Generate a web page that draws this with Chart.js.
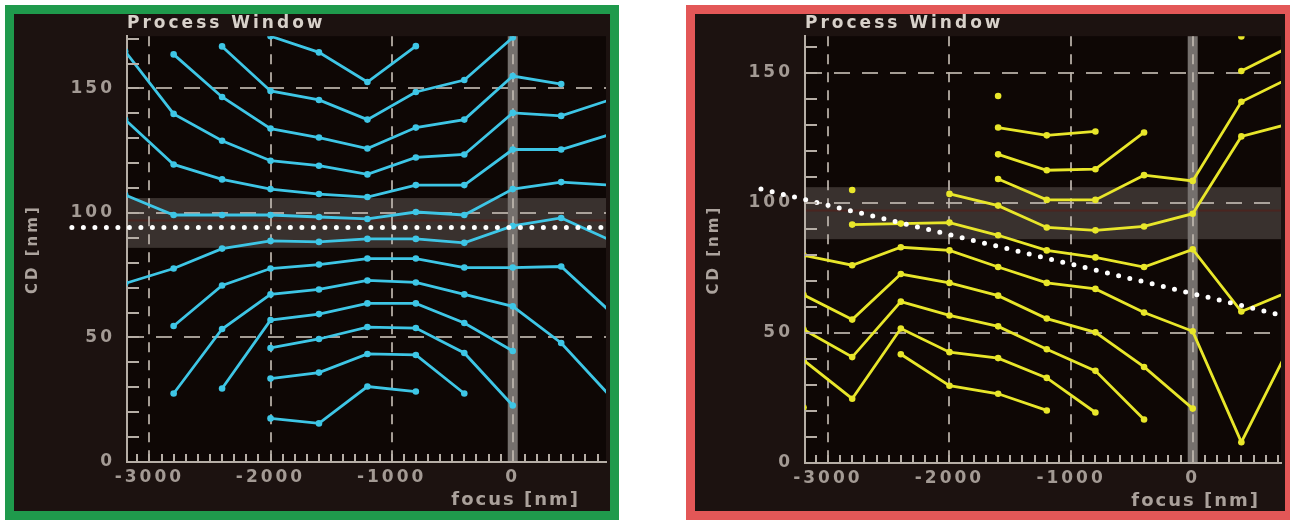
<!DOCTYPE html>
<html>
<head>
<meta charset="utf-8">
<script src="https://cdn.jsdelivr.net/npm/chart.js@4.4.1/dist/chart.umd.min.js"></script>
<style>
  html, body { margin: 0; padding: 0; background: #ffffff; width: 1290px; height: 521px; overflow: hidden; }
  .panel { position: absolute; top: 5px; border: 9px solid; background: #1c1210; box-sizing: content-box; }
  #boxLeft { left: 5px; width: 596px; height: 497px; border-color: #1f9a4c; }
  #boxRight { left: 686px; width: 590px; height: 497px; border-color: #e35757; }
  canvas { display: block; }
</style>
</head>
<body>
<div class="panel" id="boxLeft"><canvas id="leftChart" width="596" height="497"></canvas></div>
<div class="panel" id="boxRight"><canvas id="rightChart" width="590" height="497"></canvas></div>
<script>
// focus positions of the measured points (nm)
const focus = [-3200, -2800, -2400, -2000, -1600, -1200, -800, -400, 0, 400, 800];

// tick labels
const focusTicks = [-3000, -2000, -1000, 0];
const cdTicks = [0, 50, 100, 150];

// tolerance band on CD (nm)
const bandLow = 86;
const bandHigh = 106;
const targetCD = 97;

// left panel: CD (nm) per focus, one array per dose
const leftA = [null, null, null, 171, 164.5, 152.6, 167, null, null, null, null];
const leftB = [null, null, 166.9, 149, 145.4, 137.5, 148.6, 153.4, 170.5, null, null];
const leftC = [null, 163.7, 146.6, 133.9, 130.3, 125.9, 134.3, 137.5, 155, 151.8, null];
const leftD = [164.9, 139.8, 129, 121, 119, 115.5, 122.3, 123.5, 140.2, 139, 145.4];
const leftE = [137.5, 119.5, 113.5, 109.6, 107.6, 106.4, 111.2, 111.2, 125.5, 125.5, 131.5];
const leftF = [107.2, 99.2, 99.2, 99.2, 98.4, 97.6, 100.4, 99.2, 109.6, 112.4, 111.2];
const leftG = [71.7, 77.7, 85.7, 88.8, 88.4, 89.6, 89.6, 88, 94.8, 98, 89.2];
const leftH = [null, 54.6, 70.9, 77.7, 79.3, 81.7, 81.7, 78.1, 78.1, 78.5, 60.6];
const leftI = [null, 27.5, 53.4, 67.3, 69.3, 72.9, 72.1, 67.3, 62.5, 47.8, 26.7];
const leftJ = [null, null, 29.5, 57, 59.4, 63.7, 63.7, 55.8, 44.6, null, null];
const leftK = [null, null, null, 45.8, 49.4, 54.2, 53.8, 43.8, 22.7, null, null];
const leftL = [null, null, null, 33.5, 35.9, 43.4, 43, 27.5, null, null, null];
const leftM = [null, null, null, 17.5, 15.5, 30.3, 28.3, null, null, null, null];

// left panel dotted guide
const leftGuideX = [-3640, 780];
const leftGuideY = [94.2, 94.2];

// right panel
const rightA = [null, null, null, null, 128.9, 125.9, 127.4, null, null, null, null];
const rightB = [null, null, null, null, 118.6, 112.5, 112.9, 127, null, null, null];
const rightC = [null, null, null, null, 109.1, 101.1, 101.1, 110.6, 108.4, 138.8, 148];
const rightD = [null, null, null, 103.4, 98.9, 90.5, 89.4, 90.9, 95.8, 125.5, 130.4];
const rightE = [null, null, null, null, null, null, null, null, null, 150.6, 160];
const rightF = [null, 91.6, 92, 92.4, 87.5, 81.7, 79, 75.3, 82.1, 58.2, 66];
const rightG = [79.8, 76, 82.9, 81.7, 75.3, 69.2, 66.9, 57.8, 50.6, 8, 45];
const rightH = [64.6, 55.1, 72.6, 69.2, 64.3, 55.5, 50.2, 36.9, 20.9, null, null];
const rightI = [51.3, 40.7, 62, 56.7, 52.5, 43.7, 35.4, 16.7, null, null, null];
const rightJ = [39.5, 24.7, 51.7, 42.6, 40.3, 32.7, 19.4, null, null, null, null];
const rightK = [null, null, 41.8, 29.7, 26.6, 20.2, null, null, null, null, null];

// single points in the right panel
const rightDotFocus = [-3200, -2800, -1600, 400];
const rightDotCD = [21.3, 104.9, 141, 163.9];

// right panel dotted guide
const rightGuideX = [-3550, 730];
const rightGuideY = [105.3, 56.8];

const CYAN = "#3ec6e6";
const YELLOW = "#e8e62a";
const AXIS = "#b6aea6";
const LABEL = "#a39a94";
const FONT = '"DejaVu Sans", Verdana, sans-serif';

function series(vals, color) {
  return {
    data: focus.map((f, i) => ({ x: f, y: vals[i] })),
    borderColor: color,
    backgroundColor: color,
    borderWidth: 2.8,
    pointRadius: 3.3,
    pointBorderWidth: 0,
    spanGaps: false,
  };
}

function guide(xs, ys) {
  return {
    data: xs.map((x, i) => ({ x: x, y: ys[i] })),
    borderColor: "#ffffff",
    borderWidth: 5,
    borderDash: [0, 11.5],
    borderCapStyle: "round",
    pointRadius: 0,
    clip: false,
  };
}

// background, band, focus bar, minor ticks and texts
const panelDeco = {
  id: "panelDeco",
  beforeDraw(chart) {
    const { ctx, chartArea: a, scales } = chart;
    const x = scales.x, y = scales.y;
    ctx.save();
    ctx.fillStyle = "#0e0705";
    ctx.fillRect(a.left, a.top, a.right - a.left, a.bottom - a.top);
    const b1 = y.getPixelForValue(bandHigh);
    const b0 = y.getPixelForValue(bandLow);
    ctx.fillStyle = "#39312e";
    ctx.fillRect(a.left, b1, a.right - a.left, b0 - b1);
    ctx.fillStyle = "#4a2520";
    ctx.fillRect(a.left, y.getPixelForValue(targetCD) - 1, a.right - a.left, 2);
    const x0 = x.getPixelForValue(0);
    ctx.fillStyle = "#75706d";
    ctx.fillRect(x0 - 5, a.top, 10, a.bottom - a.top);
    ctx.restore();
    ctx.letterSpacing = "3px";
  },
  afterDraw(chart, args, opts) {
    const { ctx, chartArea: a, scales } = chart;
    const x = scales.x, y = scales.y;
    ctx.save();
    ctx.strokeStyle = AXIS;
    ctx.lineWidth = 2;
    ctx.beginPath();
    for (let v = 10; v <= y.max; v += 10) {
      const py = Math.round(y.getPixelForValue(v));
      ctx.moveTo(a.left, py);
      ctx.lineTo(a.left + 12, py);
    }
    for (let f = Math.ceil(x.min / 100) * 100; f <= x.max; f += 100) {
      const px = Math.round(x.getPixelForValue(f));
      ctx.moveTo(px, a.bottom);
      ctx.lineTo(px, a.bottom - 8);
    }
    ctx.stroke();

    ctx.letterSpacing = "3px";
    ctx.font = "bold 17px " + FONT;
    ctx.fillStyle = "#d8d1ca";
    ctx.textAlign = "left";
    ctx.textBaseline = "alphabetic";
    ctx.fillText("Process Window", a.left, 14);

    ctx.letterSpacing = "2px";
    ctx.font = "bold 18px " + FONT;
    ctx.fillStyle = "#aaa19b";
    ctx.textAlign = "right";
    ctx.fillText("focus [nm]", a.right - opts.focusRight, opts.focusBase);
    ctx.restore();
  },
};

function makeChart(id, datasets, xMin, xMax, yMax, yWidth, xHeight, focusRight, focusBase) {
  return new Chart(document.getElementById(id), {
    type: "line",
    data: { datasets: datasets },
    plugins: [panelDeco],
    options: {
      responsive: false,
      animation: false,
      devicePixelRatio: 1,
      layout: { padding: { top: 18, left: 0, right: 0, bottom: 0 } },
      plugins: {
        legend: { display: false },
        tooltip: { enabled: false },
        panelDeco: { focusRight: focusRight, focusBase: focusBase },
      },
      scales: {
        x: {
          type: "linear",
          min: xMin,
          max: xMax,
          afterBuildTicks: (s) => { s.ticks = focusTicks.map((v) => ({ value: v })); },
          afterFit: (s) => { s.height = xHeight; },
          grid: { color: "rgba(190,182,174,0.85)", lineWidth: 2, drawTicks: false },
          border: { display: true, color: AXIS, width: 2, dash: [10, 8] },
          ticks: {
            autoSkip: false,
            maxRotation: 0,
            padding: 5,
            color: LABEL,
            font: { family: FONT, size: 17, weight: "bold" },
            callback: (v) => String(v),
          },
        },
        y: {
          min: 0,
          max: yMax,
          afterBuildTicks: (s) => { s.ticks = cdTicks.map((v) => ({ value: v })); },
          afterFit: (s) => { s.width = yWidth; },
          grid: {
            color: (c) => (c.tick && c.tick.value === 0 ? "rgba(0,0,0,0)" : "rgba(190,182,174,0.85)"),
            lineWidth: 2,
            drawTicks: false,
          },
          border: { display: true, color: AXIS, width: 2, dash: [16, 12] },
          ticks: {
            padding: 12,
            color: LABEL,
            font: { family: FONT, size: 17, weight: "bold" },
            callback: (v) => String(v),
          },
          title: {
            display: true,
            text: "CD [nm]",
            color: "#aca39d",
            font: { family: FONT, size: 15, weight: "bold" },
            padding: { top: 10, bottom: 0 },
          },
        },
      },
    },
  });
}

const leftSets = [guide(leftGuideX, leftGuideY)].concat(
  [leftA, leftB, leftC, leftD, leftE, leftF, leftG, leftH, leftI, leftJ, leftK, leftL, leftM].map((v) => series(v, CYAN))
);

const rightDots = {
  data: rightDotFocus.map((f, i) => ({ x: f, y: rightDotCD[i] })),
  showLine: false,
  borderColor: YELLOW,
  backgroundColor: YELLOW,
  pointRadius: 3.3,
  pointBorderWidth: 0,
};

const rightSets = [guide(rightGuideX, rightGuideY), rightDots].concat(
  [rightA, rightB, rightC, rightD, rightE, rightF, rightG, rightH, rightI, rightJ, rightK].map((v) => series(v, YELLOW))
);

makeChart("leftChart", leftSets, -3185, 770, 171, 113, 49, 26, 491);
makeChart("rightChart", rightSets, -3188, 726, 164, 110, 48, 21, 492);
</script>
</body>
</html>
